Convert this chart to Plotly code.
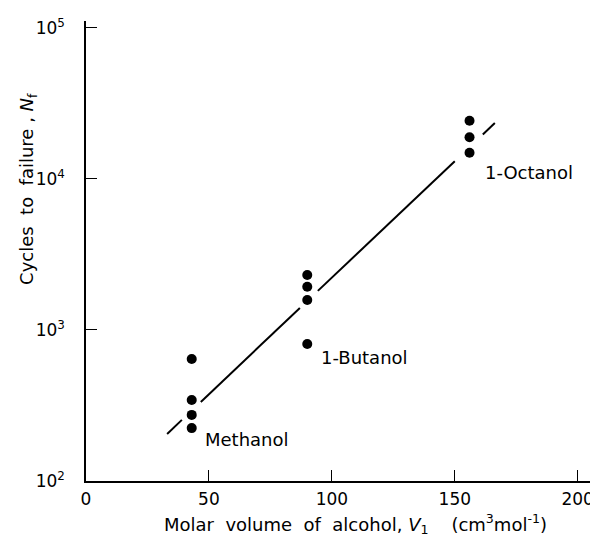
import math
import plotly.graph_objects as go

# Data
methanol_x = [43, 43, 43, 43]
methanol_n = [643, 344, 274, 224]
butanol_x = [90, 90, 90, 90]
butanol_n = [2310, 1935, 1580, 808]
octanol_x = [156, 156, 156]
octanol_n = [24300, 18900, 14900]

# fitted line, drawn with gaps where it passes the data points
fit_x = [33, 39, None, 46.7, 87, None, 94.3, 150, None, 161.4, 166.3]
fit_n = [205, 254, None, 334, 1400, None, 1815, 13100, None, 19700, 23500]

labels = ["Methanol", "1-Butanol", "1-Octanol"]
label_x = [47.6, 94.7, 161.4]
label_n = [187, 662, 11120]

x_ticks = [0, 50, 100, 150, 200]
y_ticks = [100, 1000, 10000, 100000]
y_ticktext = ["10<sup>2</sup>", "10<sup>3</sup>", "10<sup>4</sup>", "10<sup>5</sup>"]

FONT = "DejaVu Sans"

fig = go.Figure()
fig.add_trace(go.Scatter(x=fit_x, y=fit_n, mode="lines",
                         line=dict(color="black", width=2), connectgaps=False,
                         showlegend=False, hoverinfo="skip"))
for xs, ns in [(methanol_x, methanol_n), (butanol_x, butanol_n), (octanol_x, octanol_n)]:
    fig.add_trace(go.Scatter(x=xs, y=ns, mode="markers",
                             marker=dict(color="black", size=10),
                             showlegend=False))

for t, lx, ln in zip(labels, label_x, label_n):
    fig.add_annotation(x=lx, y=math.log10(ln), xref="x", yref="y", text=t,
                       showarrow=False, xanchor="left", yanchor="middle",
                       font=dict(family=FONT, size=18, color="black"))

fig.add_annotation(text="Cycles  to  failure , <i>N</i><sub>f</sub>", xref="paper", yref="paper",
                   x=-0.115, y=0.635, textangle=-90, showarrow=False,
                   xanchor="center", yanchor="middle",
                   font=dict(family=FONT, size=18, color="black"))
fig.add_annotation(text="Molar  volume  of  alcohol, <i>V</i><sub>1</sub>    (cm<sup>3</sup>mol<sup>-1</sup>)",
                   xref="paper", yref="paper", x=0.535, y=-0.094, showarrow=False,
                   xanchor="center", yanchor="middle",
                   font=dict(family=FONT, size=18, color="black"))

# the page body has an 8px margin, so the figure is sized to fit within the window
fig.update_layout(
    width=590, height=534,
    margin=dict(l=78, r=8, t=13, b=61),
    paper_bgcolor="white", plot_bgcolor="white",
    font=dict(family=FONT, size=17, color="black"),
    xaxis=dict(range=[0, 205], tickvals=x_ticks, ticks="inside", ticklen=11,
               tickwidth=1.3, tickcolor="black", showline=True, linecolor="black",
               linewidth=1.5, showgrid=False, zeroline=False, mirror=False,
               ticklabelstandoff=2, automargin=False),
    yaxis=dict(type="log", range=[2, 5.046], tickvals=y_ticks, ticktext=y_ticktext,
               ticks="inside", ticklen=11, tickwidth=1.3, tickcolor="black",
               showline=True, linecolor="black", linewidth=1.5, showgrid=False,
               zeroline=False, ticklabelstandoff=16, automargin=False),
)

fig.write_html("out.html")
